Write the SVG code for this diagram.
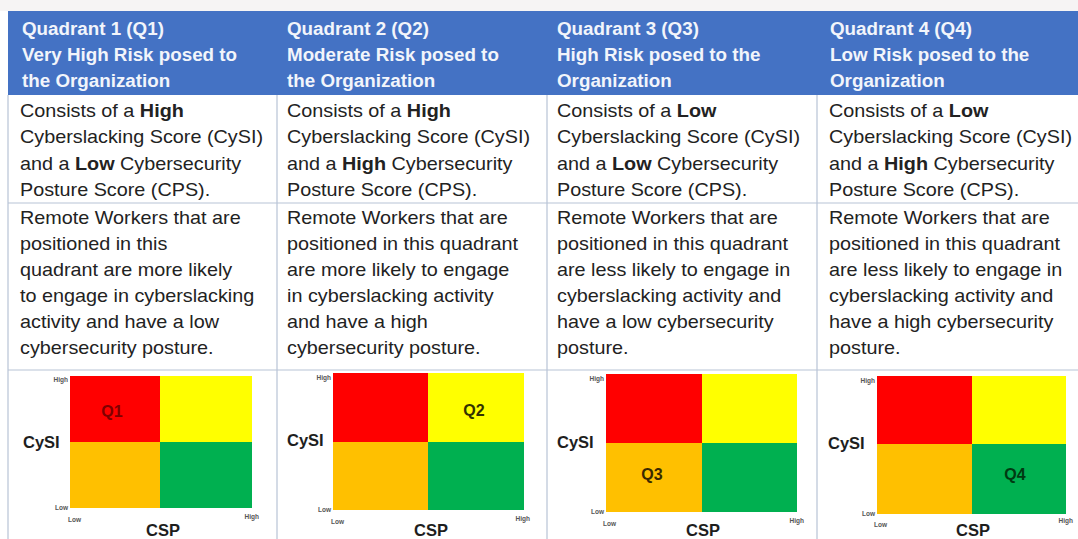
<svg xmlns="http://www.w3.org/2000/svg" width="1078" height="539" viewBox="0 0 1078 539">
  <style>
    .hd { font-family: "Liberation Sans", Arial, sans-serif; font-weight: bold; font-size: 18.8px; fill: #F2F5FB; }
    .bd { font-family: "Liberation Sans", Arial, sans-serif; font-size: 18px; fill: #222222; }
    .b { font-weight: bold; }
    .grid { stroke: #B7C3D6; stroke-width: 1.2; fill: none; }
    .ax { font-family: "Liberation Sans", Arial, sans-serif; font-weight: bold; font-size: 6.5px; fill: #555555; }
    .axl { font-family: "Liberation Sans", Arial, sans-serif; font-weight: bold; font-size: 16.5px; fill: #1E1E1E; }
    .ql { font-family: "Liberation Sans", Arial, sans-serif; font-weight: bold; font-size: 16px; text-anchor: middle; }
    .red { fill: #FF0000; }
    .yel { fill: #FFFF00; }
    .org { fill: #FFC000; }
    .grn { fill: #00B050; }
  </style>

  <!-- page background -->
  <rect x="0" y="0" width="1078" height="539" fill="#FFFFFF"/>
  <rect x="0" y="0" width="1078" height="11" fill="#F6F4F4"/>

  <!-- table frame: header band and cell borders -->
  <g id="table">
    <rect x="8" y="11" width="1070" height="84" fill="#4472C4"/>
    <line class="grid" x1="8" y1="95" x2="8" y2="539"/>
    <line class="grid" x1="277" y1="95" x2="277" y2="539"/>
    <line class="grid" x1="547" y1="95" x2="547" y2="539"/>
    <line class="grid" x1="817" y1="95" x2="817" y2="539"/>
    <line class="grid" x1="8" y1="203" x2="1078" y2="203"/>
    <line class="grid" x1="8" y1="370" x2="1078" y2="370"/>
  </g>

  <!-- Quadrant 1 -->
  <g id="q1">
    <text class="hd" x="22" y="35">Quadrant 1 (Q1)</text>
    <text class="hd" x="22" y="61">Very High Risk posed to</text>
    <text class="hd" x="22" y="87">the Organization</text>
    <g transform="translate(20,0) scale(1.1,1)">
      <text class="bd" x="0" y="117">Consists of a <tspan class="b">High</tspan></text>
      <text class="bd" x="0" y="143">Cyberslacking Score (CySI)</text>
      <text class="bd" x="0" y="170">and a <tspan class="b">Low</tspan> Cybersecurity</text>
      <text class="bd" x="0" y="196">Posture Score (CPS).</text>
      <text class="bd" x="0" y="224">Remote Workers that are</text>
      <text class="bd" x="0" y="250">positioned in this</text>
      <text class="bd" x="0" y="276">quadrant are more likely</text>
      <text class="bd" x="0" y="302">to engage in cyberslacking</text>
      <text class="bd" x="0" y="328">activity and have a low</text>
      <text class="bd" x="0" y="354">cybersecurity posture.</text>
    </g>
    <rect class="red" x="70" y="376" width="90" height="66"/>
    <rect class="yel" x="160" y="376" width="92" height="66"/>
    <rect class="org" x="70" y="442" width="90" height="66"/>
    <rect class="grn" x="160" y="442" width="92" height="66"/>
    <text class="ql" x="112" y="417" fill="#800000">Q1</text>
    <text class="ax" x="68" y="382" text-anchor="end">High</text>
    <text class="ax" x="68" y="510" text-anchor="end">Low</text>
    <text class="ax" x="68" y="522">Low</text>
    <text class="ax" x="259" y="519" text-anchor="end">High</text>
    <text class="axl" x="23" y="448">CySI</text>
    <text class="axl" x="163" y="536" text-anchor="middle">CSP</text>
  </g>

  <!-- Quadrant 2 -->
  <g id="q2">
    <text class="hd" x="287" y="35">Quadrant 2 (Q2)</text>
    <text class="hd" x="287" y="61">Moderate Risk posed to</text>
    <text class="hd" x="287" y="87">the Organization</text>
    <g transform="translate(287,0) scale(1.1,1)">
      <text class="bd" x="0" y="117">Consists of a <tspan class="b">High</tspan></text>
      <text class="bd" x="0" y="143">Cyberslacking Score (CySI)</text>
      <text class="bd" x="0" y="170">and a <tspan class="b">High</tspan> Cybersecurity</text>
      <text class="bd" x="0" y="196">Posture Score (CPS).</text>
      <text class="bd" x="0" y="224">Remote Workers that are</text>
      <text class="bd" x="0" y="250">positioned in this quadrant</text>
      <text class="bd" x="0" y="276">are more likely to engage</text>
      <text class="bd" x="0" y="302">in cyberslacking activity</text>
      <text class="bd" x="0" y="328">and have a high</text>
      <text class="bd" x="0" y="354">cybersecurity posture.</text>
    </g>
    <rect class="red" x="333" y="373" width="95" height="69"/>
    <rect class="yel" x="428" y="373" width="96" height="69"/>
    <rect class="org" x="333" y="442" width="95" height="68"/>
    <rect class="grn" x="428" y="442" width="96" height="68"/>
    <text class="ql" x="474" y="416" fill="#333300">Q2</text>
    <text class="ax" x="331" y="380" text-anchor="end">High</text>
    <text class="ax" x="331" y="512" text-anchor="end">Low</text>
    <text class="ax" x="331" y="524">Low</text>
    <text class="ax" x="530" y="521" text-anchor="end">High</text>
    <text class="axl" x="287" y="446">CySI</text>
    <text class="axl" x="431" y="536" text-anchor="middle">CSP</text>
  </g>

  <!-- Quadrant 3 -->
  <g id="q3">
    <text class="hd" x="557" y="35">Quadrant 3 (Q3)</text>
    <text class="hd" x="557" y="61">High Risk posed to the</text>
    <text class="hd" x="557" y="87">Organization</text>
    <g transform="translate(557,0) scale(1.1,1)">
      <text class="bd" x="0" y="117">Consists of a <tspan class="b">Low</tspan></text>
      <text class="bd" x="0" y="143">Cyberslacking Score (CySI)</text>
      <text class="bd" x="0" y="170">and a <tspan class="b">Low</tspan> Cybersecurity</text>
      <text class="bd" x="0" y="196">Posture Score (CPS).</text>
      <text class="bd" x="0" y="224">Remote Workers that are</text>
      <text class="bd" x="0" y="250">positioned in this quadrant</text>
      <text class="bd" x="0" y="276">are less likely to engage in</text>
      <text class="bd" x="0" y="302">cyberslacking activity and</text>
      <text class="bd" x="0" y="328">have a low cybersecurity</text>
      <text class="bd" x="0" y="354">posture.</text>
    </g>
    <rect class="red" x="606" y="374" width="96" height="69"/>
    <rect class="yel" x="702" y="374" width="95" height="69"/>
    <rect class="org" x="606" y="443" width="96" height="69"/>
    <rect class="grn" x="702" y="443" width="95" height="69"/>
    <text class="ql" x="652" y="480" fill="#3A2A00">Q3</text>
    <text class="ax" x="604" y="381" text-anchor="end">High</text>
    <text class="ax" x="604" y="514" text-anchor="end">Low</text>
    <text class="ax" x="603" y="526">Low</text>
    <text class="ax" x="804" y="523" text-anchor="end">High</text>
    <text class="axl" x="557" y="448">CySI</text>
    <text class="axl" x="703" y="536" text-anchor="middle">CSP</text>
  </g>

  <!-- Quadrant 4 -->
  <g id="q4">
    <text class="hd" x="830" y="35">Quadrant 4 (Q4)</text>
    <text class="hd" x="830" y="61">Low Risk posed to the</text>
    <text class="hd" x="830" y="87">Organization</text>
    <g transform="translate(829,0) scale(1.1,1)">
      <text class="bd" x="0" y="117">Consists of a <tspan class="b">Low</tspan></text>
      <text class="bd" x="0" y="143">Cyberslacking Score (CySI)</text>
      <text class="bd" x="0" y="170">and a <tspan class="b">High</tspan> Cybersecurity</text>
      <text class="bd" x="0" y="196">Posture Score (CPS).</text>
      <text class="bd" x="0" y="224">Remote Workers that are</text>
      <text class="bd" x="0" y="250">positioned in this quadrant</text>
      <text class="bd" x="0" y="276">are less likely to engage in</text>
      <text class="bd" x="0" y="302">cyberslacking activity and</text>
      <text class="bd" x="0" y="328">have a high cybersecurity</text>
      <text class="bd" x="0" y="354">posture.</text>
    </g>
    <rect class="red" x="877" y="376" width="95" height="68"/>
    <rect class="yel" x="972" y="376" width="94" height="68"/>
    <rect class="org" x="877" y="444" width="95" height="70"/>
    <rect class="grn" x="972" y="444" width="94" height="70"/>
    <text class="ql" x="1015" y="480" fill="#003A12">Q4</text>
    <text class="ax" x="875" y="383" text-anchor="end">High</text>
    <text class="ax" x="875" y="516" text-anchor="end">Low</text>
    <text class="ax" x="874" y="527">Low</text>
    <text class="ax" x="1073" y="523" text-anchor="end">High</text>
    <text class="axl" x="828" y="449">CySI</text>
    <text class="axl" x="973" y="536" text-anchor="middle">CSP</text>
  </g>
</svg>
